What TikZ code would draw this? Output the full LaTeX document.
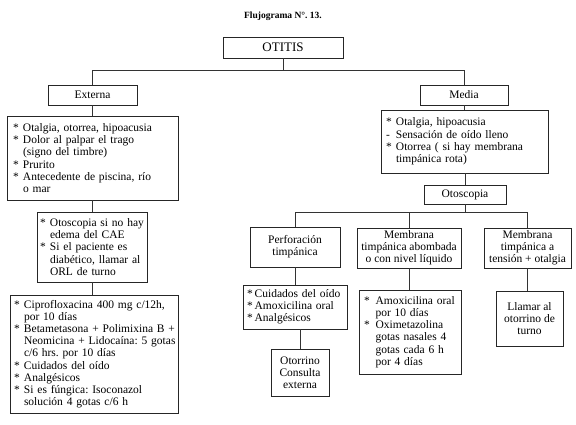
\documentclass[tikz,border=0pt]{standalone}
\usepackage{fontspec}
\setmainfont{Liberation Serif}
\frenchspacing
\newcommand\bl[1]{\mbox{\makebox[10pt][l]{*}#1}}
\newcommand\bh[1]{\mbox{\makebox[10pt][l]{-}#1}}
\newcommand\bi[1]{\mbox{\hspace*{10pt}#1}}
\begin{document}
\begin{tikzpicture}[x=1pt,y=-1pt,
  box/.style={draw=black!85, line width=0.6pt, inner sep=0pt, font=\fontsize{11.5}{12.2}\selectfont\frenchspacing, text=black},
  lst/.style={box, align=left, inner xsep=5pt},
  ctr/.style={box, align=center},
  link/.style={draw=black!80, line width=0.6pt}]
\useasboundingbox (0,0) rectangle (576,424);
\node[font=\bfseries\fontsize{9.5}{11}\selectfont] (title) at (283,16) {Flujograma N°. 13.};
\node[ctr, minimum width=120pt, minimum height=21pt, font=\fontsize{13}{15}\selectfont] (otitis) at (283,47.5) {OTITIS};
% left branch
\node[ctr, minimum width=89pt, minimum height=20pt] (externa) at (92.5,95) {Externa};
\node[lst, inner xsep=6pt, text width=159pt, minimum height=84pt] (extsym) at (92.5,158) {\bl{Otalgia, otorrea, hipoacusia}\\ \bl{Dolor al palpar el trago}\\ \bi{(signo del timbre)}\\ \bl{Prurito}\\ \bl{Antecedente de piscina, río}\\ \bi{o mar}};
\node[lst, inner xsep=3pt, text width=104pt, minimum height=70pt] (cae) at (92,247) {\bl{Otoscopia si no hay}\\ \bi{edema del CAE}\\ \bl{Si el paciente es}\\ \bi{diabético, llamar al}\\ \bi{ORL de turno}};
\node[lst, inner xsep=4pt, text width=160pt, minimum height=118pt] (treat) at (94,354) {\bl{Ciprofloxacina 400 mg c/12h,}\\ \bi{por 10 días}\\ \bl{Betametasona + Polimixina B +}\\ \bi{Neomicina + Lidocaína: 5 gotas}\\ \bi{c/6 hrs. por 10 días}\\ \bl{Cuidados del oído}\\ \bl{Analgésicos}\\ \bl{Si es fúngica: Isoconazol}\\ \bi{solución 4 gotas c/6 h}};
% right branch
\node[ctr, minimum width=88pt, minimum height=20pt] (media) at (464,95) {Media};
\node[lst, text width=157pt, minimum height=63pt] (medsym) at (464.5,141.5) {\bl{Otalgia, hipoacusia}\\ \bh{Sensación de oído lleno}\\ \bl{Otorrea ( si hay membrana}\\ \bi{timpánica rota)}};
\node[ctr, minimum width=82pt, minimum height=19pt] (otosc) at (465,194.5) {Otoscopia};
\node[ctr, minimum width=90pt, minimum height=40pt] (perf) at (295,247) {Perforación\\ timpánica};
\node[ctr, minimum width=104pt, minimum height=40pt] (abomb) at (409,248) {Membrana\\ timpánica abombada\\ o con nivel líquido};
\node[ctr, minimum width=87pt, minimum height=40pt] (tension) at (527.5,248) {Membrana\\ timpánica a\\ tensión + otalgia};
\node[lst, inner xsep=4pt, text width=96pt, minimum height=44pt] (perflist) at (295,307) {\mbox{*\,Cuidados del oído}\\ \mbox{*\,Amoxicilina oral}\\ \mbox{*\,Analgésicos}};
\node[ctr, minimum width=58pt, minimum height=47pt] (otorrino) at (300,372.5) {Otorrino\\ Consulta\\ externa};
\node[lst, inner xsep=5pt, text width=92pt, minimum height=84pt] (aboblist) at (410,332) {\bl{\hspace{1.5pt}Amoxicilina oral}\\ \bi{\hspace{1.5pt}por 10 días}\\ \bl{\hspace{1.5pt}Oximetazolina}\\ \bi{\hspace{1.5pt}gotas nasales 4}\\ \bi{\hspace{1.5pt}gotas cada 6 h}\\ \bi{\hspace{1.5pt}por 4 días}};
\node[ctr, minimum width=67pt, minimum height=55pt] (llamar) at (529.5,318.5) {Llamar al\\ otorrino de\\ turno};
% connectors
\coordinate (j1) at (283,70);
\coordinate (j2) at (465,212);
\draw[link] (otitis.south) -- (j1);
\draw[link] (externa.north) -- (externa.north |- j1) -- (media.north |- j1) -- (media.north);
\draw[link] (externa.south) -- (externa.south |- extsym.north);
\draw[link] (extsym.south -| cae.north) -- (cae.north);
\draw[link] (cae.south -| cae.north) -- (cae.south |- treat.north);
\draw[link] (media.south) -- (media.south |- medsym.north);
\draw[link] (medsym.south -| otosc.north) -- (otosc.north);
\draw[link] (otosc.south) -- (j2);
\draw[link] (perf.north) -- (perf.north |- j2) -- (tension.north |- j2) -- (tension.north);
\draw[link] (abomb.north |- j2) -- (abomb.north);
\draw[link] (perf.south) -- (perf.south |- perflist.north);
\draw[link] (otorrino.north |- perflist.south) -- (otorrino.north);
\draw[link] (abomb.south) -- (abomb.south |- aboblist.north);
\draw[link] (tension.south) -- (tension.south |- llamar.north);
\end{tikzpicture}
\end{document}
